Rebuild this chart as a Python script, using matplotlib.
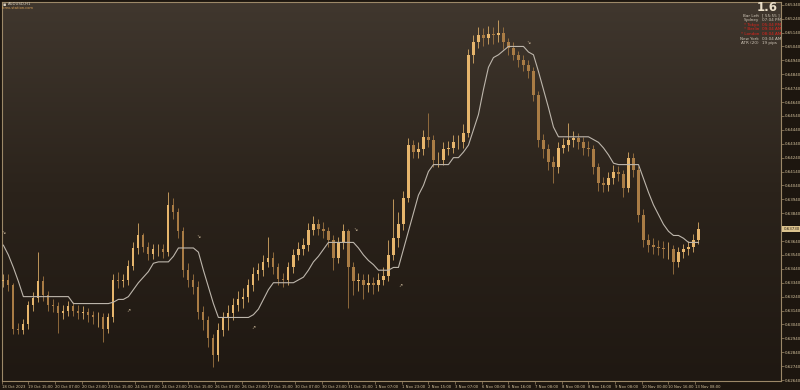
import matplotlib
matplotlib.use("Agg")
import matplotlib.pyplot as plt
import numpy as np
from matplotlib.colors import LinearSegmentedColormap

# AUDUSD H1, one candle per 3 hourly bars (prices)
closes = [
    0.6336, 0.6332, 0.6301, 0.6300, 0.6304, 0.6318, 0.6323, 0.6335, 0.6325, 0.6318,
    0.6317, 0.6312, 0.6314, 0.6317, 0.6314, 0.6312, 0.6313, 0.6311, 0.6309, 0.6309,
    0.6301, 0.6309, 0.6336, 0.6335, 0.6336, 0.6346, 0.6359, 0.6368, 0.6360, 0.6355,
    0.6358, 0.6358, 0.6356, 0.6390, 0.6385, 0.6371, 0.6343, 0.6336, 0.6331, 0.6313,
    0.6307, 0.6294, 0.6282, 0.6300, 0.6309, 0.6312, 0.6318, 0.6322, 0.6324, 0.6332,
    0.6340, 0.6343, 0.6349, 0.6352, 0.6345, 0.6337, 0.6336, 0.6345, 0.6354, 0.6358,
    0.6361, 0.6372, 0.6376, 0.6373, 0.6371, 0.6365, 0.6352, 0.6363, 0.6371, 0.6345,
    0.6335, 0.6336, 0.6332, 0.6334, 0.6332, 0.6336, 0.6339, 0.6354, 0.6366, 0.6376,
    0.6395, 0.6433, 0.6428, 0.6430, 0.6439, 0.6437, 0.6422, 0.6422, 0.6430, 0.6431,
    0.6435, 0.6435, 0.6442, 0.6498, 0.6507, 0.6512, 0.6510, 0.6513, 0.6512, 0.6514,
    0.6507, 0.6503, 0.6498, 0.6494, 0.6491, 0.6486, 0.6469, 0.6437, 0.6430, 0.6421,
    0.6417, 0.6431, 0.6433, 0.6437, 0.6438, 0.6435, 0.6431, 0.6430, 0.6417, 0.6406,
    0.6404, 0.6409, 0.6414, 0.6412, 0.6402, 0.6424, 0.6415, 0.6383, 0.6365, 0.6361,
    0.6360, 0.6359, 0.6358, 0.6358, 0.6349, 0.6356, 0.6358, 0.6360, 0.6365, 0.6373,
]
highs = [
    0.6340, 0.6340, 0.6334, 0.6305, 0.6308, 0.6321, 0.6327, 0.6356, 0.6339, 0.6328,
    0.6322, 0.6320, 0.6318, 0.6321, 0.6320, 0.6318, 0.6317, 0.6316, 0.6314, 0.6313,
    0.6312, 0.6312, 0.6340, 0.6342, 0.6340, 0.6350, 0.6363, 0.6377, 0.6370, 0.6363,
    0.6362, 0.6362, 0.6362, 0.6399, 0.6395, 0.6388, 0.6374, 0.6348, 0.6340, 0.6335,
    0.6317, 0.6310, 0.6297, 0.6305, 0.6313, 0.6318, 0.6323, 0.6328, 0.6330, 0.6337,
    0.6345, 0.6348, 0.6354, 0.6367, 0.6356, 0.6348, 0.6341, 0.6349, 0.6358, 0.6363,
    0.6366, 0.6377, 0.6382, 0.6380, 0.6378, 0.6374, 0.6368, 0.6367, 0.6376, 0.6373,
    0.6349, 0.6341, 0.6340, 0.6340, 0.6338, 0.6341, 0.6345, 0.6365, 0.6394, 0.6385,
    0.6400, 0.6438, 0.6437, 0.6435, 0.6444, 0.6456, 0.6440, 0.6428, 0.6435, 0.6436,
    0.6440, 0.6440, 0.6448, 0.6502, 0.6512, 0.6518, 0.6517, 0.6519, 0.6518, 0.6523,
    0.6518, 0.6510, 0.6507, 0.6501, 0.6498, 0.6494, 0.6489, 0.6472, 0.6441, 0.6434,
    0.6425, 0.6435, 0.6438, 0.6449, 0.6443, 0.6442, 0.6439, 0.6436, 0.6433, 0.6420,
    0.6410, 0.6414, 0.6419, 0.6418, 0.6415, 0.6428, 0.6427, 0.6418, 0.6387, 0.6369,
    0.6366, 0.6365, 0.6364, 0.6363, 0.6361, 0.6360, 0.6362, 0.6364, 0.6369, 0.6378,
]
lows = [
    0.6331, 0.6328, 0.6297, 0.6297, 0.6297, 0.6301, 0.6314, 0.6320, 0.6321, 0.6314,
    0.6313, 0.6298, 0.6308, 0.6310, 0.6310, 0.6308, 0.6308, 0.6306, 0.6304, 0.6302,
    0.6291, 0.6298, 0.6306, 0.6330, 0.6331, 0.6332, 0.6343, 0.6355, 0.6356, 0.6350,
    0.6351, 0.6353, 0.6352, 0.6353, 0.6380, 0.6366, 0.6338, 0.6331, 0.6326, 0.6308,
    0.6300, 0.6288, 0.6273, 0.6278, 0.6296, 0.6300, 0.6307, 0.6314, 0.6316, 0.6320,
    0.6328, 0.6336, 0.6339, 0.6345, 0.6340, 0.6332, 0.6331, 0.6332, 0.6341, 0.6350,
    0.6354, 0.6357, 0.6368, 0.6368, 0.6366, 0.6360, 0.6343, 0.6348, 0.6358, 0.6316,
    0.6325, 0.6328, 0.6322, 0.6327, 0.6326, 0.6328, 0.6332, 0.6335, 0.6350, 0.6360,
    0.6372, 0.6392, 0.6424, 0.6424, 0.6426, 0.6432, 0.6417, 0.6417, 0.6419, 0.6426,
    0.6427, 0.6430, 0.6431, 0.6439, 0.6492, 0.6503, 0.6504, 0.6506, 0.6506, 0.6507,
    0.6502, 0.6498, 0.6494, 0.6489, 0.6486, 0.6481, 0.6465, 0.6432, 0.6424, 0.6415,
    0.6406, 0.6413, 0.6427, 0.6429, 0.6432, 0.6430, 0.6426, 0.6425, 0.6412, 0.6400,
    0.6399, 0.6400, 0.6405, 0.6407, 0.6396, 0.6399, 0.6410, 0.6378, 0.6360, 0.6356,
    0.6355, 0.6354, 0.6352, 0.6351, 0.6340, 0.6345, 0.6352, 0.6354, 0.6356, 0.6362,
]
first_open = 0.6335

# trailing stop-style line, sampled at the same candles
trail = [
    0.6361, 0.6354, 0.6345, 0.6335, 0.6324, 0.6324, 0.6324, 0.6324, 0.6324, 0.6324,
    0.6324, 0.6324, 0.6324, 0.6324, 0.6319, 0.6319, 0.6319, 0.6319, 0.6319, 0.6319,
    0.6319, 0.6319, 0.6320, 0.6322, 0.6322, 0.6324, 0.6329, 0.6334, 0.6338, 0.6342,
    0.6348, 0.6349, 0.6349, 0.6349, 0.6353, 0.6359, 0.6359, 0.6359, 0.6359, 0.6356,
    0.6343, 0.6331, 0.6319, 0.6309, 0.6309, 0.6309, 0.6309, 0.6309, 0.6309, 0.6309,
    0.6311, 0.6315, 0.6322, 0.6329, 0.6334, 0.6334, 0.6334, 0.6334, 0.6334, 0.6336,
    0.6338, 0.6343, 0.6349, 0.6353, 0.6358, 0.6363, 0.6363, 0.6363, 0.6363, 0.6363,
    0.6363, 0.6359, 0.6354, 0.6350, 0.6347, 0.6343, 0.6343, 0.6343, 0.6345, 0.6345,
    0.6358, 0.6371, 0.6384, 0.6397, 0.6404, 0.6414, 0.6419, 0.6419, 0.6419, 0.6419,
    0.6424, 0.6424, 0.6428, 0.6433, 0.6444, 0.6455, 0.6473, 0.6489, 0.6496, 0.6498,
    0.6501, 0.6504, 0.6504, 0.6504, 0.6504, 0.6500, 0.6498, 0.6486, 0.6473, 0.6460,
    0.6446, 0.6439, 0.6439, 0.6439, 0.6439, 0.6439, 0.6439, 0.6439, 0.6437, 0.6435,
    0.6431, 0.6426, 0.6420, 0.6419, 0.6419, 0.6419, 0.6419, 0.6419, 0.6409, 0.6399,
    0.6390, 0.6383, 0.6376, 0.6371, 0.6368, 0.6368, 0.6366, 0.6363, 0.6363, 0.6363,
]

# swing markers (bar index, price, direction)
swing_bar = [1, 76, 118, 151, 212, 239, 316]
swing_price = [0.6370, 0.6314, 0.6367, 0.6302, 0.6372, 0.6332, 0.6507]
swing_dir = ["dn", "up", "dn", "up", "dn", "up", "dn"]

time_labels = [
    "18 Oct 2023", "19 Oct 15:00", "20 Oct 07:00", "20 Oct 23:00", "23 Oct 15:00",
    "24 Oct 07:00", "24 Oct 23:00", "25 Oct 15:00", "26 Oct 07:00", "26 Oct 23:00",
    "27 Oct 15:00", "30 Oct 07:00", "30 Oct 23:00", "31 Oct 15:00", "1 Nov 07:00",
    "1 Nov 23:00", "2 Nov 15:00", "3 Nov 07:00", "6 Nov 00:00", "6 Nov 16:00",
    "7 Nov 08:00", "8 Nov 00:00", "8 Nov 16:00", "9 Nov 08:00", "10 Nov 00:00",
    "10 Nov 16:00", "13 Nov 08:00",
]
bars_per_label = 16
price_ticks = [round(0.65340 - 0.001 * i, 5) for i in range(28)]

info_labels = ["Bar Left", "Sydney", "* Tokyo", "* Berlin", "* London", "New York", "ATR (20)"]
info_values = ["[ 55:55 ]", "07:04 PM", "05:04 PM", "09:04 AM", "08:04 AM", "03:04 AM", "19 pips"]
info_open = [False, False, True, True, True, False, False]
spread = "1.6"

BG = "#1d160f"
FRAME = "#9c8868"
TXT = "#d6c49f"
UP = "#e6b56c"
DN = "#a97c45"

W, H = 800, 390
fig = plt.figure(figsize=(W / 100, H / 100), dpi=100, facecolor=BG)
ax = fig.add_axes([1.7 / W, 9.3 / H, 779.3 / W, 379 / H])

x_lo, x_hi = 0, 467.5
y_lo, y_hi = 0.62635, 0.65362

cmap = LinearSegmentedColormap.from_list("bg", ["#1f1812", "#2b231b", "#40372e"])
grad = np.linspace(0, 1, 256).reshape(-1, 1)
ax.imshow(grad, extent=(x_lo, x_hi, y_lo, y_hi), aspect="auto", origin="lower",
          cmap=cmap, zorder=0, interpolation="bilinear")

bar_x = np.array([1 + 3 * k for k in range(len(closes))])
c = np.array(closes)
o = np.array([first_open] + closes[:-1])
up = c >= o
cols = np.where(up, UP, DN)

ax.vlines(bar_x, lows, highs, colors=cols, linewidth=0.55, zorder=2)
body = np.where(np.abs(c - o) < 0.00004, 0.00004, np.abs(c - o))
ax.bar(bar_x, body, bottom=np.minimum(o, c), width=1.3, color=cols,
       linewidth=0, zorder=3)

ax.plot(bar_x, trail, color="#bdb6ac", linewidth=0.8, zorder=4)

for b, p, d in zip(swing_bar, swing_price, swing_dir):
    ax.text(b, p, "\u2198" if d == "dn" else "\u2197", fontsize=3.5,
            color="#cbb89a", ha="center", va="center", zorder=5)

ax.set_xlim(x_lo, x_hi)
ax.set_ylim(y_lo, y_hi)

ax.set_xticks([bars_per_label * i for i in range(len(time_labels))])
ax.set_xticklabels(time_labels)
for lab in ax.get_xticklabels():
    lab.set_horizontalalignment("left")
ax.tick_params(axis="x", length=2.5, width=0.5, color=FRAME, labelsize=2.7,
               labelcolor=TXT, pad=0.8)

# the label next to the live price is hidden by the price tag, as in MT4
shown = [p for p in price_ticks if abs(p - closes[-1]) > 0.0006]
ax.yaxis.tick_right()
ax.set_yticks(shown)
ax.set_yticklabels([f"{p:.5f}" for p in shown])
ax.tick_params(axis="y", length=2, width=0.5, color=FRAME, labelsize=2.9,
               labelcolor=TXT, pad=0.8)

for s in ax.spines.values():
    s.set_color(FRAME)
    s.set_linewidth(0.8)

# current price tag
ax.text(1.003, closes[-1], f"{closes[-1]:.5f}", transform=ax.get_yaxis_transform(),
        ha="left", va="center", fontsize=2.9, color="#2a2016", zorder=10, clip_on=False,
        bbox=dict(boxstyle="square,pad=0.25", fc="#dcc38e", ec="none"))

# top-left caption
fig.text(3 / W, 1 - 4.2 / H, "\u25aa", fontsize=3.5, color="#d8d0c0", va="center")
fig.text(7.5 / W, 1 - 4.2 / H, "AUDUSD,H1", fontsize=2.8, color="#d8d0c0", va="center")
fig.text(2.2 / W, 1 - 7.8 / H, "forex-station.com", fontsize=2.6, color="#d9a25a", va="center")

# top-right info panel
fig.text(778 / W, 1 - 7.5 / H, spread, fontsize=8.5, fontweight="bold",
         color="#ece0ca", ha="right", va="center")
for i, (lab, val, hot) in enumerate(zip(info_labels, info_values, info_open)):
    yy = 1 - (15.7 + 4.6 * i) / H
    col = "#e0231c" if hot else "#cfc6b8"
    fig.text(759 / W, yy, lab, fontsize=3.0, color=col, ha="right", va="center")
    fig.text(762 / W, yy, val, fontsize=3.0, color=col, ha="left", va="center")

fig.savefig("out.png", dpi=100, facecolor=BG)
